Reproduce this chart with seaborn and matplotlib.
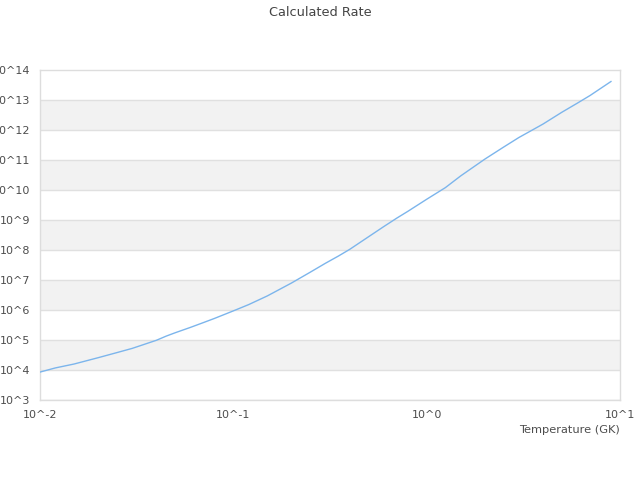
import numpy as np
import pandas as pd
import seaborn as sns
import matplotlib.pyplot as plt

# values
temperature = [0.01, 0.012, 0.015, 0.02, 0.025, 0.03, 0.04, 0.045, 0.05, 0.06,
               0.07, 0.08, 0.1, 0.12, 0.15, 0.2, 0.25, 0.3, 0.35, 0.4,
               0.5, 0.6, 0.7, 0.8, 1.0, 1.25, 1.5, 2.0, 2.5, 3.0,
               3.5, 4.0, 5.0, 6.0, 7.0, 8.0, 9.0]
rate = [8.51e3, 1.17e4, 1.58e4, 2.57e4, 3.80e4, 5.25e4, 9.77e4, 1.35e5, 1.74e5, 2.63e5,
        3.80e5, 5.25e5, 9.33e5, 1.51e6, 2.95e6, 7.94e6, 1.82e7, 3.63e7, 6.31e7, 1.05e8,
        2.75e8, 6.03e8, 1.15e9, 1.95e9, 4.90e9, 1.20e10, 2.95e10, 1.07e11, 2.69e11, 5.62e11,
        9.77e11, 1.58e12, 3.89e12, 7.76e12, 1.41e13, 2.51e13, 4.17e13]

x_exponents = [-2, -1, 0, 1]
y_exponents = list(range(3, 15))

df = pd.DataFrame({"T": temperature, "rate": rate})

sns.set_style("white")
plt.rcParams["font.family"] = ["DejaVu Sans"]

fig = plt.figure(figsize=(6.4, 4.8), dpi=100)
ax = fig.add_axes([0.0625, 0.1667, 0.90625, 0.6875])

ax.set_xscale("log")
ax.set_yscale("log")
ax.set_xlim(10.0 ** x_exponents[0], 10.0 ** x_exponents[-1])
ax.set_ylim(10.0 ** y_exponents[0], 10.0 ** y_exponents[-1])

# alternating bands + grid lines
for e in y_exponents[:-1]:
    if e % 2 == 0:
        ax.axhspan(10.0 ** e, 10.0 ** (e + 1), color="#f2f2f2", lw=0, zorder=0)
    ax.axhline(10.0 ** e, color="#e0e0e0", lw=1, zorder=1)

sns.lineplot(data=df, x="T", y="rate", ax=ax, color="#7cb5ec", lw=1, zorder=3)

ax.set_xticks([10.0 ** e for e in x_exponents])
ax.set_xticklabels([f"10^{e}" for e in x_exponents])
ax.set_yticks([10.0 ** e for e in y_exponents])
ax.set_yticklabels([f"10^{e}" for e in y_exponents])
ax.minorticks_off()
ax.tick_params(axis="both", length=0, labelsize=8, colors="#4d4d4d")
ax.tick_params(axis="x", pad=7)
ax.tick_params(axis="y", pad=7)

for s in ax.spines.values():
    s.set_color("#dddddd")
    s.set_linewidth(1)

ax.set_xlabel("Temperature (GK)", fontsize=8.2, color="#4d4d4d", loc="right", labelpad=4)
ax.set_ylabel("")
fig.suptitle("Calculated Rate", x=0.5, y=0.975, va="center", fontsize=9.3, color="#444444")

fig.savefig("out.png", dpi=100)
